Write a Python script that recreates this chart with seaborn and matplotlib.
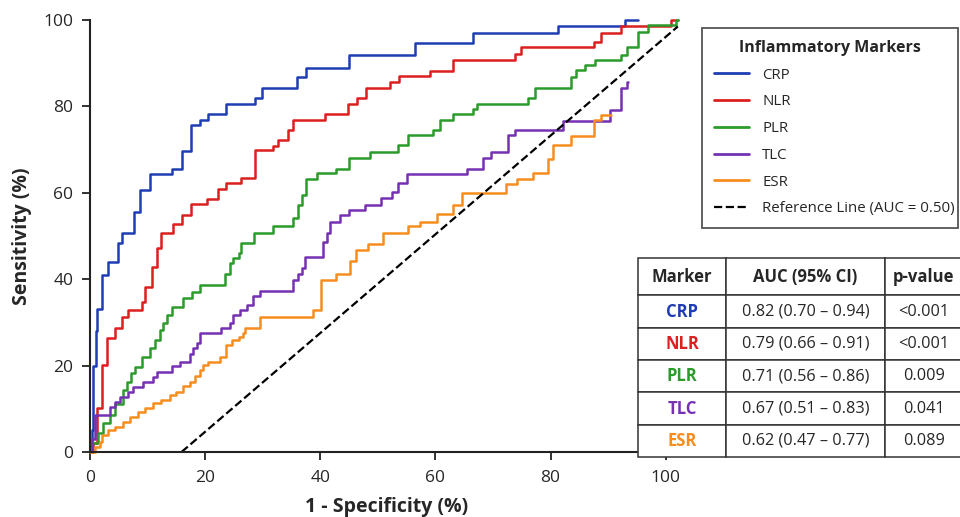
import pandas as pd
import seaborn as sns
import matplotlib.pyplot as plt
from matplotlib.lines import Line2D

# === ROC data (x = 1 - specificity %, y = sensitivity %) ===
markers = ['CRP', 'NLR', 'PLR', 'TLC', 'ESR']
colors = ['#1f3db3', '#dc1f1f', '#2b9b2b', '#7530b3', '#f78d1e']

crp_x = [0, 0.3, 0.6, 1.0, 1.3, 2.0, 3.2, 4.9, 5.5, 7.7, 8.7, 10.4, 14.3, 16.0, 17.5, 19.1,
         20.5, 23.7, 28.6, 29.8, 35.9, 37.6, 45.0, 56.4, 66.5, 81.3, 93.0, 95.2]
crp_y = [0, 5, 20, 28, 33, 41, 44, 48.3, 50.6, 55.6, 60.6, 64.3, 65.5, 69.7, 75.7, 76.9,
         78.2, 80.5, 81.9, 84.3, 86.9, 88.8, 91.9, 94.6, 97.1, 98.5, 100, 100]

nlr_x = [0, 0.5, 1.16, 2.0, 2.9, 4.3, 5.5, 6.65, 9.0, 9.5, 10.7, 11.6, 12.4, 14.5, 15.9, 17.5,
         20.3, 22.3, 23.7, 26.3, 28.6, 31.8, 32.7, 34.4, 35.3, 40.8, 44.8, 46.3, 47.9, 52.1,
         53.7, 59.0, 63.0, 73.9, 74.9, 87.6, 88.8, 92.3, 101.0, 102.1]
nlr_y = [0, 2, 10.1, 20.1, 26.3, 28.6, 31.3, 32.9, 34.8, 38.3, 42.9, 47.2, 50.8, 52.7, 54.9, 57.4,
         58.5, 60.9, 62.2, 63.4, 69.8, 70.9, 72.2, 74.5, 76.9, 78.2, 80.5, 82.0, 84.3, 85.7,
         87.0, 88.2, 90.7, 92.1, 93.8, 95.0, 96.9, 98.5, 100, 100]

plr_x = [0, 0.3, 1.45, 2.3, 3.5, 4.3, 5.8, 6.4, 7.2, 7.8, 9.0, 10.4, 11.3, 12.2, 12.7, 13.3,
         14.2, 16.2, 17.7, 19.1, 23.4, 24.3, 24.9, 25.8, 26.3, 28.4, 31.8, 35.3, 36.2, 36.8,
         37.6, 39.4, 42.8, 44.9, 48.6, 53.5, 55.3, 59.6, 60.8, 63.1, 66.5, 67.3, 76.1, 77.3,
         83.6, 84.5, 85.9, 87.7, 92.3, 93.2, 95.2, 96.9, 101.8, 102.1]
plr_y = [0, 2.0, 4.3, 6.6, 8.5, 11.2, 14.3, 16.2, 18.2, 19.7, 22.1, 24.0, 25.9, 28.2, 29.8, 31.7,
         33.6, 35.6, 37.1, 38.7, 41.3, 43.7, 44.8, 46.0, 48.3, 50.6, 52.2, 54.1, 57.2, 59.5,
         63.3, 64.5, 65.6, 68.0, 69.5, 71.1, 73.4, 74.5, 76.9, 78.2, 79.4, 80.5, 81.9, 84.3,
         86.9, 88.4, 89.6, 90.7, 91.9, 93.8, 97.3, 98.8, 100, 100]

tlc_x = [0, 0.3, 0.9, 3.5, 4.3, 5.2, 6.6, 7.5, 9.2, 11.0, 11.6, 14.2, 15.6, 17.4, 17.9, 18.5,
         19.1, 22.8, 24.3, 24.9, 26.0, 27.2, 28.3, 29.5, 35.3, 36.2, 36.8, 37.3, 40.5, 41.1,
         41.7, 43.4, 44.9, 47.8, 50.6, 52.4, 53.5, 55.0, 65.4, 68.3, 69.7, 72.6, 73.8, 82.2,
         90.3, 92.3, 93.2, 93.5]
tlc_y = [0, 3.0, 8.6, 10.5, 11.6, 12.8, 14.0, 15.1, 16.3, 17.4, 18.6, 19.8, 20.9, 22.8, 24.0, 25.2,
         27.5, 28.6, 29.8, 31.7, 32.9, 34.0, 36.0, 37.3, 39.8, 41.3, 42.5, 45.2, 48.7, 50.6,
         53.3, 54.9, 56.0, 57.2, 58.7, 60.3, 62.2, 64.3, 65.6, 68.0, 69.5, 73.4, 74.5, 76.6,
         79.1, 84.3, 85.7, 85.7]

esr_x = [0, 0.87, 1.7, 2.0, 3.2, 4.3, 5.8, 7.0, 8.4, 9.6, 11.0, 12.4, 13.9, 15.0, 16.2, 17.4,
         18.2, 19.1, 19.7, 20.5, 22.6, 23.7, 24.6, 25.8, 26.6, 26.9, 29.5, 38.8, 40.2, 42.8,
         45.1, 46.2, 48.3, 50.9, 55.3, 57.3, 60.3, 63.1, 64.6, 72.3, 74.1, 77.0, 79.6, 80.4,
         83.6, 87.5, 88.8, 90.5]
esr_y = [0, 1.2, 2.4, 3.9, 5.1, 5.9, 7.0, 8.2, 9.3, 10.1, 11.3, 12.1, 13.2, 14.0, 15.2, 16.3,
         17.5, 19.0, 20.2, 20.9, 22.1, 24.8, 25.9, 26.7, 27.5, 28.6, 31.3, 32.9, 39.8, 41.3,
         44.1, 46.8, 48.2, 50.6, 52.2, 53.3, 55.2, 57.2, 59.9, 62.1, 63.3, 64.5, 67.9, 71.0,
         73.2, 76.8, 78.1, 78.1]

ref_x = [15.9, 102.1]
ref_y = [0, 98.5]

auc_text = ['0.82 (0.70 \u2013 0.94)', '0.79 (0.66 \u2013 0.91)', '0.71 (0.56 \u2013 0.86)',
            '0.67 (0.51 \u2013 0.83)', '0.62 (0.47 \u2013 0.77)']
p_text = ['<0.001', '<0.001', '0.009', '0.041', '0.089']

# === Long-form table ===
xs = [crp_x, nlr_x, plr_x, tlc_x, esr_x]
ys = [crp_y, nlr_y, plr_y, tlc_y, esr_y]
df = pd.concat([pd.DataFrame({'fpr': x, 'tpr': y, 'Marker': m})
                for m, x, y in zip(markers, xs, ys)], ignore_index=True)
df_ref = pd.DataFrame({'fpr': ref_x, 'tpr': ref_y})

# === Style ===
sns.set_style('ticks')
plt.rcParams['font.family'] = ['Open Sans', 'DejaVu Sans']

fig = plt.figure(figsize=(9.6, 5.17), dpi=100)
ax = fig.add_axes([90 / 960, 65 / 517, 593 / 960, 432 / 517])

palette = dict(zip(markers, colors))
sns.lineplot(data=df, x='fpr', y='tpr', hue='Marker', palette=palette, estimator=None,
             sort=False, drawstyle='steps-post', linewidth=1.8, legend=False, ax=ax,
             clip_on=False)
sns.lineplot(data=df_ref, x='fpr', y='tpr', color='black', linestyle='--', linewidth=1.6,
             estimator=None, sort=False, ax=ax)

ax.set_xlim(0, 103)
ax.set_ylim(0, 100)
ax.set_xticks([0, 20, 40, 60, 80, 100])
ax.set_yticks([0, 20, 40, 60, 80, 100])
ax.tick_params(axis='both', labelsize=12.5, length=6, width=1.3, direction='out', color='#222')
ax.tick_params(axis='y', pad=6)
ax.tick_params(axis='x', pad=7)
for s in ['top', 'right']:
    ax.spines[s].set_visible(False)
for s in ['left', 'bottom']:
    ax.spines[s].set_linewidth(1.5)
    ax.spines[s].set_color('#222')

ax.set_xlabel('1 - Specificity (%)', fontsize=14, fontweight='bold', labelpad=8)
ax.set_ylabel('Sensitivity (%)', fontsize=14, fontweight='bold', labelpad=8)

# === Legend ===
handles = [Line2D([0], [0], color=c, lw=2) for c in colors]
handles.append(Line2D([0], [0], color='black', lw=1.6, linestyle='--'))
labels = markers + ['Reference Line (AUC = 0.50)']
leg = fig.legend(handles, labels, title='Inflammatory Markers', loc='upper left',
                 bbox_to_anchor=(702 / 960, (517 - 226) / 517, 256 / 960, 198 / 517),
                 bbox_transform=fig.transFigure, mode='expand', borderaxespad=0,
                 fontsize=10.8, title_fontsize=11.5, handlelength=2.3, handletextpad=0.9,
                 labelspacing=0.78, borderpad=0.8, fancybox=False, framealpha=1)
leg.get_title().set_fontweight('bold')
leg.get_frame().set_edgecolor('#555555')
leg.get_frame().set_linewidth(1.3)

# === AUC table ===
tax = fig.add_axes([638 / 960, (517 - 457) / 517, 325 / 960, 199 / 517])
tax.axis('off')
cell_text = [[m, a, p] for m, a, p in zip(markers, auc_text, p_text)]
tbl = tax.table(cellText=cell_text, colLabels=['Marker', 'AUC (95% CI)', 'p-value'],
                cellLoc='center', colWidths=[88, 159, 78], bbox=[0, 0, 1, 1])
tbl.auto_set_font_size(False)
tbl.set_fontsize(11.7)
for (r, c), cell in tbl.get_celld().items():
    cell.set_edgecolor('#333333')
    cell.set_linewidth(1.1)
    cell.set_height(37.4 if r == 0 else 32.3)
    if r == 0:
        cell.get_text().set_fontweight('bold')
        cell.get_text().set_fontsize(12)
    elif c == 0:
        cell.get_text().set_color(colors[r - 1])
        cell.get_text().set_fontweight('bold')
        cell.get_text().set_fontsize(12)

plt.savefig('out.png', dpi=100)
